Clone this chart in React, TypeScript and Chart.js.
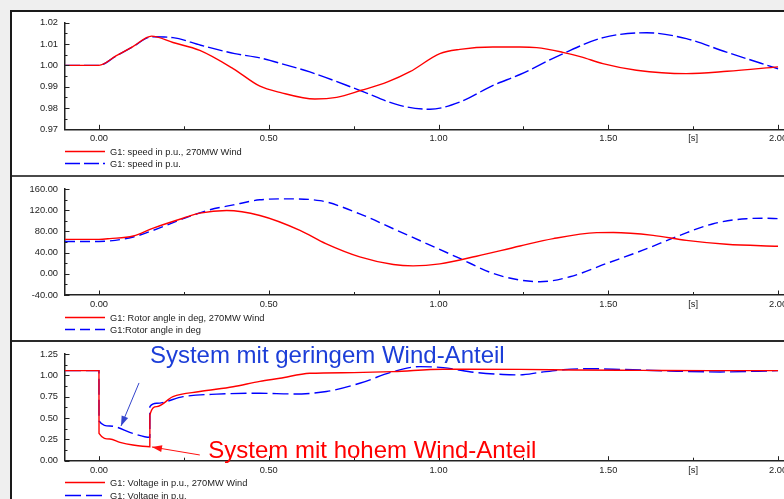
import React, { useEffect, useRef } from "react";
import { Chart, registerables } from "chart.js";
Chart.register(...registerables);

const FONT = '"Liberation Sans", Arial, Helvetica, sans-serif';

// ---- shared x axis (time in s) ----
const xMin = -0.1;
const xMax = 2.1;
const xTickValues = [0, 0.25, 0.5, 0.75, 1, 1.25, 1.5, 1.75, 2];
const xTickLabels = ["0.00", "", "0.50", "", "1.00", "", "1.50", "[s]", "2.00"];
const xTickMajor = [true, false, true, false, true, false, true, false, true];

// ---- panel 1: speed ----
const speedTicks = [0.97, 0.98, 0.99, 1.0, 1.01, 1.02];
const speedWindT = [-0.1, 0, 0.05, 0.1, 0.155, 0.218, 0.297, 0.395, 0.474, 0.533, 0.636, 0.7, 0.773, 0.85, 0.916, 1.004, 1.063, 1.16, 1.24, 1.289, 1.366, 1.42, 1.484, 1.583, 1.73, 1.85, 2.0];
const speedWindV = [1.0, 1.0, 1.0044, 1.0088, 1.0137, 1.0107, 1.007, 0.9985, 0.9902, 0.9873, 0.9842, 0.985, 0.9883, 0.9922, 0.997, 1.0055, 1.0075, 1.0086, 1.0086, 1.0083, 1.0061, 1.004, 1.0008, 0.9977, 0.9961, 0.9972, 0.9993];
const speedBaseT = [-0.1, 0, 0.05, 0.1, 0.155, 0.218, 0.3, 0.4, 0.474, 0.55, 0.621, 0.768, 0.886, 0.975, 1.063, 1.161, 1.24, 1.367, 1.485, 1.613, 1.73, 1.848, 2.0];
const speedBaseV = [1.0, 1.0, 1.0043, 1.0087, 1.0134, 1.013, 1.0094, 1.0055, 1.0035, 1.0002, 0.9969, 0.9883, 0.9812, 0.9794, 0.9828, 0.9906, 0.9957, 1.0055, 1.013, 1.0153, 1.0125, 1.0062, 0.9984];

// ---- panel 2: rotor angle ----
const angleTicks = [-40, 0, 40, 80, 120, 160];
const angleWindT = [-0.1, 0, 0.032, 0.101, 0.16, 0.248, 0.297, 0.376, 0.474, 0.592, 0.668, 0.768, 0.867, 0.925, 1.004, 1.112, 1.24, 1.338, 1.466, 1.515, 1.632, 1.73, 1.848, 2.0];
const angleWindV = [65, 65, 66.4, 71.3, 86.3, 105, 114.4, 119.5, 110, 82, 57, 32, 17.6, 15, 18.8, 33.2, 52.5, 66.4, 77.6, 78, 72.6, 63, 55.7, 52];
const angleBaseT = [-0.1, 0, 0.032, 0.101, 0.16, 0.248, 0.327, 0.396, 0.474, 0.553, 0.651, 0.768, 0.867, 0.965, 1.063, 1.161, 1.24, 1.299, 1.387, 1.495, 1.602, 1.711, 1.809, 1.907, 1.96, 2.0];
const angleBaseV = [61, 61, 62, 69.4, 82, 104, 120.8, 130, 139.6, 141.4, 138, 113, 85, 57, 28.9, 0.7, -11.8, -15, -5.6, 19.5, 44.5, 72.6, 94.5, 104, 104.8, 104];

// ---- panel 3: voltage ----
const voltTicks = [0, 0.25, 0.5, 0.75, 1.0, 1.25];
const voltWindT = [-0.1, 0, 0.0002, 0.032, 0.062, 0.1, 0.1498, 0.15, 0.17, 0.218, 0.297, 0.395, 0.474, 0.533, 0.621, 0.75, 0.867, 1.014, 1.24, 1.4, 1.6, 1.8, 2.0];
const voltWindV = [1.055, 1.055, 0.32, 0.254, 0.215, 0.184, 0.164, 0.536, 0.633, 0.75, 0.81, 0.867, 0.93, 0.966, 1.024, 1.032, 1.043, 1.071, 1.07, 1.062, 1.058, 1.055, 1.055];
const voltBaseT = [-0.1, 0, 0.0002, 0.032, 0.1, 0.1498, 0.15, 0.17, 0.248, 0.347, 0.474, 0.572, 0.67, 0.768, 0.867, 0.945, 1.014, 1.112, 1.19, 1.24, 1.3, 1.367, 1.436, 1.534, 1.68, 1.83, 2.0];
const voltBaseV = [1.055, 1.055, 0.465, 0.407, 0.32, 0.274, 0.633, 0.673, 0.75, 0.78, 0.79, 0.782, 0.81, 0.907, 1.043, 1.102, 1.09, 1.032, 1.01, 1.005, 1.035, 1.065, 1.078, 1.07, 1.051, 1.04, 1.055];

// ---- annotations (data coordinates of panel 3) ----
const noteLowText = "System mit geringem Wind-Anteil";
const noteLowPos = [0.15, 1.145];
const noteHighText = "System mit hohem Wind-Anteil";
const noteHighPos = [0.322, 0.026];
const arrowLow = [0.118, 0.911, 0.065, 0.407];
const arrowHigh = [0.297, 0.067, 0.156, 0.161];

const RED = "#ff0000";
const BLUE = "#0000ff";
const AXIS = "#222222";
const CANVAS_W = 812;

type Series = { label: string; t: number[]; v: number[]; color: string; dash?: number[] };
type PanelCfg = {
  top: number;
  height: number;
  padTop: number;
  axisHeight: number;
  yTicks: number[];
  digits: number;
  series: Series[];
  extra?: any[];
};

function drawArrow(ctx: CanvasRenderingContext2D, x1: number, y1: number, x2: number, y2: number, color: string) {
  ctx.save();
  ctx.strokeStyle = color;
  ctx.fillStyle = color;
  ctx.lineWidth = 1;
  ctx.beginPath();
  ctx.moveTo(x1, y1);
  ctx.lineTo(x2, y2);
  ctx.stroke();
  const a = Math.atan2(y2 - y1, x2 - x1);
  const L = 10, W = 3.5;
  ctx.beginPath();
  ctx.moveTo(x2, y2);
  ctx.lineTo(x2 - L * Math.cos(a) + W * Math.sin(a), y2 - L * Math.sin(a) - W * Math.cos(a));
  ctx.lineTo(x2 - L * Math.cos(a) - W * Math.sin(a), y2 - L * Math.sin(a) + W * Math.cos(a));
  ctx.closePath();
  ctx.fill();
  ctx.restore();
}

function buildConfig(cfg: PanelCfg): any {
  const yTicks = cfg.yTicks;
  const inwardTicks = {
    id: "inwardTicks",
    afterDraw(chart: any) {
      const { ctx, chartArea } = chart;
      const x = chart.scales.x;
      const y = chart.scales.y;
      ctx.save();
      ctx.strokeStyle = AXIS;
      ctx.lineWidth = 1;
      ctx.beginPath();
      xTickValues.forEach((v, i) => {
        const px = Math.round(x.getPixelForValue(v)) + 0.5;
        const len = xTickMajor[i] ? 4.5 : 3;
        ctx.moveTo(px, chartArea.bottom);
        ctx.lineTo(px, chartArea.bottom - len);
      });
      yTicks.forEach((v, i) => {
        const py = Math.round(y.getPixelForValue(v)) + 0.5;
        ctx.moveTo(chartArea.left, py);
        ctx.lineTo(chartArea.left + 4.5, py);
        if (i < yTicks.length - 1) {
          const pm = Math.round(y.getPixelForValue((v + yTicks[i + 1]) / 2)) + 0.5;
          ctx.moveTo(chartArea.left, pm);
          ctx.lineTo(chartArea.left + 2.5, pm);
        }
      });
      ctx.stroke();
      ctx.restore();
    },
  };
  const legendPlugin = {
    id: "lineLegend",
    afterDraw(chart: any) {
      const { ctx, chartArea } = chart;
      ctx.save();
      chart.data.datasets.forEach((ds: any, i: number) => {
        const yy = Math.round(chartArea.bottom + 21.5 + i * 12.6) + 0.5;
        ctx.strokeStyle = ds.borderColor;
        ctx.lineWidth = 1.3;
        ctx.setLineDash(ds.borderDash || []);
        ctx.beginPath();
        ctx.moveTo(chartArea.left, yy);
        ctx.lineTo(chartArea.left + 40, yy);
        ctx.stroke();
        ctx.setLineDash([]);
        ctx.fillStyle = "#222";
        ctx.font = `9.3px ${FONT}`;
        ctx.textBaseline = "middle";
        ctx.textAlign = "left";
        ctx.fillText(ds.label, chartArea.left + 45, yy + 0.5);
      });
      ctx.restore();
    },
  };
  return {
    type: "line",
    data: {
      datasets: cfg.series.map((s) => ({
        label: s.label,
        data: s.t.map((t, i) => ({ x: t, y: s.v[i] })),
        borderColor: s.color,
        borderWidth: 1.4,
        borderDash: s.dash || [],
        pointRadius: 0,
        fill: false,
        cubicInterpolationMode: "monotone",
      })),
    },
    options: {
      responsive: false,
      animation: false,
      devicePixelRatio: 1,
      events: [],
      layout: { padding: { left: 0, right: 0, top: cfg.padTop, bottom: 0 } },
      plugins: { legend: { display: false }, tooltip: { enabled: false } },
      scales: {
        x: {
          type: "linear",
          min: xMin,
          max: xMax,
          grid: { display: false, drawTicks: false },
          border: { display: true, color: AXIS, width: 1.5 },
          afterBuildTicks: (s: any) => {
            s.ticks = xTickValues.map((v) => ({ value: v }));
          },
          afterFit: (s: any) => {
            s.height = cfg.axisHeight;
          },
          ticks: {
            autoSkip: false,
            maxRotation: 0,
            minRotation: 0,
            padding: 4,
            color: "#222",
            font: { family: FONT, size: 9.3 },
            callback: (_v: any, i: number) => xTickLabels[i],
          },
        },
        y: {
          type: "linear",
          min: yTicks[0],
          max: yTicks[yTicks.length - 1],
          grid: { display: false, drawTicks: false },
          border: { display: true, color: AXIS, width: 1.5 },
          afterBuildTicks: (s: any) => {
            s.ticks = yTicks.map((v) => ({ value: v }));
          },
          afterFit: (s: any) => {
            s.width = 65;
          },
          ticks: {
            autoSkip: false,
            padding: 7,
            color: "#222",
            font: { family: FONT, size: 9.3 },
            callback: (v: any) => Number(v).toFixed(cfg.digits),
          },
        },
      },
    },
    plugins: [inwardTicks, legendPlugin, ...(cfg.extra || [])],
  };
}

const annotationPlugin = {
  id: "notes",
  afterDraw(chart: any) {
    const { ctx } = chart;
    const x = chart.scales.x;
    const y = chart.scales.y;
    drawArrow(ctx, x.getPixelForValue(arrowLow[0]), y.getPixelForValue(arrowLow[1]), x.getPixelForValue(arrowLow[2]), y.getPixelForValue(arrowLow[3]), "#3344cc");
    drawArrow(ctx, x.getPixelForValue(arrowHigh[0]), y.getPixelForValue(arrowHigh[1]), x.getPixelForValue(arrowHigh[2]), y.getPixelForValue(arrowHigh[3]), "#ff1010");
    ctx.save();
    ctx.font = `24px ${FONT}`;
    ctx.textBaseline = "alphabetic";
    ctx.textAlign = "left";
    ctx.fillStyle = "#1c3ed8";
    ctx.fillText(noteLowText, x.getPixelForValue(noteLowPos[0]), y.getPixelForValue(noteLowPos[1]));
    ctx.fillStyle = "#ff0000";
    ctx.fillText(noteHighText, x.getPixelForValue(noteHighPos[0]), y.getPixelForValue(noteHighPos[1]));
    ctx.restore();
  },
};

const panels: PanelCfg[] = [
  {
    top: 0,
    height: 175,
    padTop: 22.7,
    axisHeight: 45.7,
    yTicks: speedTicks,
    digits: 2,
    series: [
      { label: "G1: speed in p.u., 270MW Wind", t: speedWindT, v: speedWindV, color: RED },
      { label: "G1: speed in p.u.", t: speedBaseT, v: speedBaseV, color: BLUE, dash: [15, 4] },
    ],
  },
  {
    top: 175,
    height: 165,
    padTop: 14,
    axisHeight: 45,
    yTicks: angleTicks,
    digits: 2,
    series: [
      { label: "G1: Rotor angle in deg, 270MW Wind", t: angleWindT, v: angleWindV, color: RED },
      { label: "G1:Rotor angle in deg", t: angleBaseT, v: angleBaseV, color: BLUE, dash: [10, 5] },
    ],
  },
  {
    top: 340,
    height: 175,
    padTop: 14,
    axisHeight: 54.3,
    yTicks: voltTicks,
    digits: 2,
    series: [
      { label: "G1: Voltage in p.u., 270MW Wind", t: voltWindT, v: voltWindV, color: RED },
      { label: "G1: Voltage in p.u.", t: voltBaseT, v: voltBaseV, color: BLUE, dash: [16, 5] },
    ],
    extra: [annotationPlugin],
  },
];

function Panel({ cfg }: { cfg: PanelCfg }) {
  const ref = useRef<HTMLCanvasElement | null>(null);
  useEffect(() => {
    if (!ref.current) return;
    const chart = new Chart(ref.current, buildConfig(cfg));
    return () => chart.destroy();
  }, [cfg]);
  return (
    <canvas
      ref={ref}
      width={CANVAS_W}
      height={cfg.height}
      style={{ position: "absolute", left: 0, top: cfg.top, width: CANVAS_W, height: cfg.height, display: "block" }}
    />
  );
}

export default function App() {
  return (
    <div
      style={{
        position: "fixed",
        left: 0,
        top: 0,
        width: 784,
        height: 499,
        overflow: "hidden",
        background: "#efefef",
      }}
    >
      <div
        style={{
          position: "absolute",
          left: 10,
          top: 10,
          width: 900,
          height: 600,
          background: "#ffffff",
          borderLeft: "2px solid #1a1a1a",
          borderTop: "2px solid #1a1a1a",
        }}
      />
      <div style={{ position: "absolute", left: 12, top: 175, width: 900, height: 2, background: "#4a4a4a" }} />
      <div style={{ position: "absolute", left: 12, top: 340, width: 900, height: 2, background: "#2a2a2a" }} />
      {panels.map((p, i) => (
        <Panel key={i} cfg={p} />
      ))}
    </div>
  );
}
